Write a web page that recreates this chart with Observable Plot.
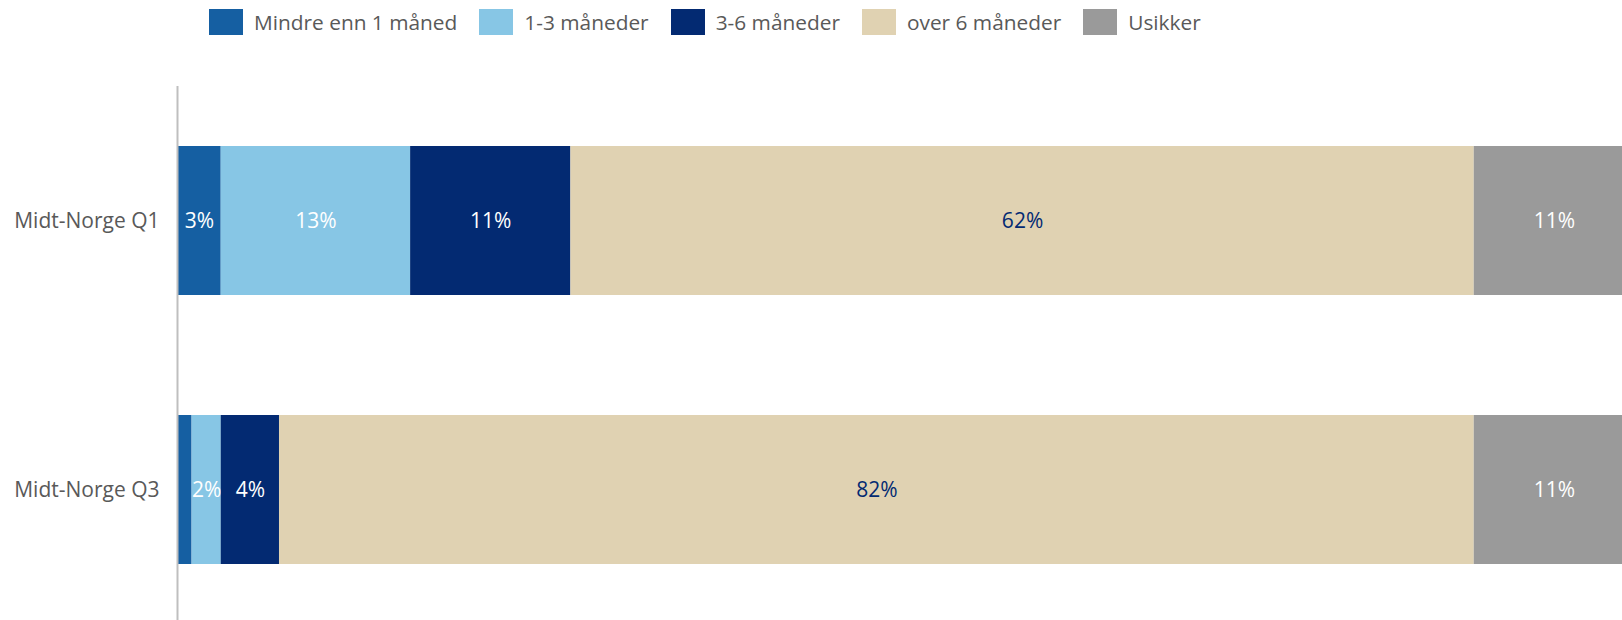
<!DOCTYPE html>
<html>
<head>
<meta charset="utf-8">
<script src="https://cdn.jsdelivr.net/npm/d3@7"></script>
<script src="https://cdn.jsdelivr.net/npm/@observablehq/plot@0.6"></script>
<style>
  html, body { margin: 0; padding: 0; background: #fff; }
  body { width: 1622px; height: 620px; overflow: hidden; font-family: "Open Sans", sans-serif; }
  #legend { height: 44px; display: flex; align-items: center; padding-left: 209px; box-sizing: border-box; padding-top: 0px; }
  .item { display: flex; align-items: center; margin-right: 22px; }
  .sw { width: 34px; height: 26px; margin-right: 11px; }
  .lab { font-size: 20.85px; color: #595959; white-space: nowrap; }
  #chart svg { display: block; }
</style>
</head>
<body>
<div id="legend"></div>
<div id="chart"></div>
<script>
const regions = ["Midt-Norge Q1", "Midt-Norge Q3"];
const categories = ["Mindre enn 1 måned", "1-3 måneder", "3-6 måneder", "over 6 måneder", "Usikker"];
const colors = ["#155fa2", "#87c6e5", "#032a72", "#e0d2b2", "#9a9a9a"];
const labelColors = ["#ffffff", "#ffffff", "#ffffff", "#032a72", "#ffffff"];
const valuesQ1 = [3, 13, 11, 62, 11];
const valuesQ3 = [1, 2, 4, 82, 11];

const series = [valuesQ1, valuesQ3];
const data = regions.flatMap((r, i) => categories.map((c, j) => ({
  region: r, cat: c, value: series[i][j], labelColor: labelColors[j]
})));

const legend = document.getElementById("legend");
categories.forEach((c, j) => {
  const it = document.createElement("div");
  it.className = "item";
  it.innerHTML = `<div class="sw" style="background:${colors[j]}"></div><div class="lab">${c}</div>`;
  legend.appendChild(it);
});

const stackOpts = {x: "value", y: "region", order: categories};

const chart = Plot.plot({
  width: 1622,
  height: 576,
  marginLeft: 177,
  marginRight: 0,
  marginTop: 42,
  marginBottom: 0,
  style: {fontFamily: "Open Sans, sans-serif", fontSize: "21px", color: "#595959", background: "#fff"},
  x: {domain: [0, 100], range: [177, 1634], axis: null},
  y: {domain: regions, range: [-18, 640], padding: 0.446, label: null},
  color: {domain: categories, range: colors},
  marks: [
    Plot.barX(data, Plot.stackX({...stackOpts, fill: "cat"})),
    Plot.text(data, Plot.stackX({
      ...stackOpts,
      text: d => d.value > 1 ? d.value + "%" : null,
      fill: "labelColor",
      fontSize: 21
    })),
    Plot.ruleX([0], {stroke: "#bfbfbf", strokeWidth: 2}),
    Plot.axisY({tickSize: 0, tickPadding: 18, fontSize: 21, fill: "#595959", label: null})
  ]
});
document.getElementById("chart").appendChild(chart);
</script>
</body>
</html>
